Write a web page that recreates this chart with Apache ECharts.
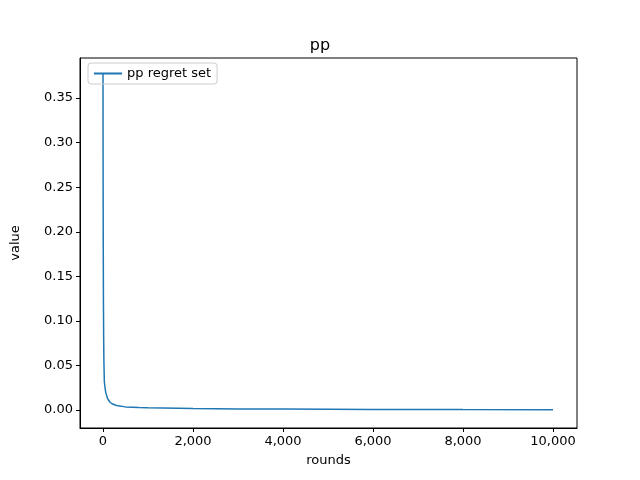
<!DOCTYPE html>
<html><head><meta charset="utf-8">
<script src="https://cdn.jsdelivr.net/npm/echarts@6/dist/echarts.min.js"></script>
<style>body{margin:0}#c{width:640px;height:480px}</style>
</head><body><div id="c"></div>
<script>
var rounds = [0, 3, 6, 10, 15, 20, 30, 40, 60, 100, 150, 200, 300, 500, 800, 1000, 2000, 3000, 4000, 6000, 8000, 10000];
var regret = [0.378, 0.25, 0.18, 0.12, 0.08, 0.055, 0.032, 0.027, 0.02, 0.013, 0.009, 0.007, 0.005, 0.0035, 0.0027, 0.0024, 0.0016, 0.0012, 0.001, 0.0007, 0.0005, 0.0004];
var xTicks = [0, 2000, 4000, 6000, 8000, 10000];
var yTicks = [0, 0.05, 0.1, 0.15, 0.2, 0.25, 0.3, 0.35];

var chart = echarts.init(document.getElementById('c'));
var txt = {color: '#000', fontFamily: 'DejaVu Sans', fontSize: 13};
chart.setOption({
    animation: false,
    title: {text: 'pp', left: 'center', top: 33, textStyle: {fontFamily: 'DejaVu Sans', fontSize: 16, fontWeight: 'normal', color: '#000'}},
    legend: {left: 88, top: 63, data: ['pp regret set'], itemWidth: 28, itemHeight: 2, icon: 'rect', itemGap: 8,
        borderColor: '#ccc', borderWidth: 1, borderRadius: 3, padding: [4, 6], textStyle: txt},
    grid: {left: 80, right: 63, top: 58, bottom: 52, show: true, borderColor: '#000', borderWidth: 1},
    xAxis: {type: 'value', min: -511, max: 10533, name: 'rounds', nameLocation: 'middle', nameGap: 26, nameTextStyle: txt,
        axisLabel: Object.assign({customValues: xTicks, margin: 7}, txt), splitLine: {show: false},
        axisLine: {onZero: false, lineStyle: {color: '#000'}}, axisTick: {customValues: xTicks, length: 4, lineStyle: {color: '#000'}}},
    yAxis: {type: 'value', min: -0.0202, max: 0.395, name: 'value', nameLocation: 'middle', nameGap: 58, nameTextStyle: txt,
        axisLabel: Object.assign({customValues: yTicks, margin: 7, formatter: function (v) { return v.toFixed(2); }}, txt),
        splitLine: {show: false}, axisLine: {show: true, onZero: false, lineStyle: {color: '#000'}},
        axisTick: {show: true, customValues: yTicks, length: 4, lineStyle: {color: '#000'}}},
    series: [{name: 'pp regret set', type: 'line', showSymbol: false, color: '#1f77b4', lineStyle: {width: 1.5},
        data: rounds.map(function (r, i) { return [r, regret[i]]; })}]
});
</script></body></html>
